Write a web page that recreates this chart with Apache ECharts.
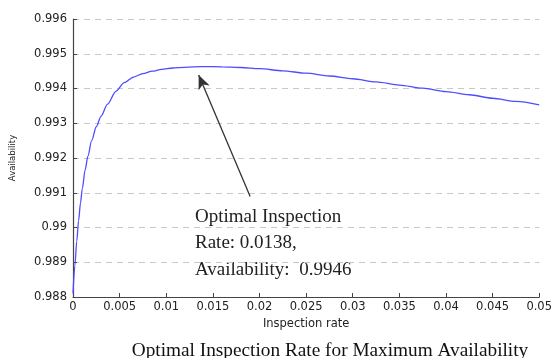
<!DOCTYPE html>
<html>
<head>
<meta charset="utf-8">
<script src="https://cdn.jsdelivr.net/npm/echarts@6/dist/echarts.min.js"></script>
<style>html,body{margin:0;padding:0;background:#fff}#c{width:555px;height:358px}</style>
</head>
<body>
<div id="c"></div>
<script>
var rates = [0, 0.0002, 0.0004, 0.0006, 0.0008, 0.001, 0.0013, 0.0016, 0.002, 0.0025, 0.003, 0.0037, 0.0046, 0.0055, 0.0065, 0.0075, 0.0085, 0.0095, 0.0107, 0.012, 0.0138, 0.016, 0.018, 0.02, 0.0225, 0.025, 0.0275, 0.03, 0.0325, 0.035, 0.0375, 0.04, 0.0425, 0.045, 0.0475, 0.05];
var availability = [0.9881, 0.9889, 0.9896, 0.9902, 0.9907, 0.99112, 0.99166, 0.99205, 0.99250, 0.99290, 0.99320, 0.99355, 0.99392, 0.99417, 0.99433, 0.99443, 0.99450, 0.99455, 0.99459, 0.99461, 0.99463, 0.994625, 0.994605, 0.99457, 0.99451, 0.99444, 0.99436, 0.99428, 0.99419, 0.99410, 0.99401, 0.99391, 0.99382, 0.99372, 0.99363, 0.99353];
var xTickLabels = ['0', '0.005', '0.01', '0.015', '0.02', '0.025', '0.03', '0.035', '0.04', '0.045', '0.05'];
var yTickLabels = ['0.988', '0.989', '0.99', '0.991', '0.992', '0.993', '0.994', '0.995', '0.996'];
var arrowTail = [0.0190, 0.99089];
var arrowHead = [0.01348, 0.99439];
var annotationLines = ['Optimal Inspection', 'Rate: 0.0138,', 'Availability:  0.9946'];
var titleText = 'Optimal Inspection Rate for Maximum Availability';

var chart = echarts.init(document.getElementById('c'), null, {renderer: 'canvas'});
var pts = rates.map(function (r, i) { return [r, availability[i]]; });
chart.setOption({
  animation: false,
  backgroundColor: '#fff',
  title: {
    text: titleText,
    left: 325, top: 336, textAlign: 'center',
    textStyle: {fontFamily: 'Liberation Serif', fontSize: 19.3, fontWeight: 'normal', color: '#111'}
  },
  grid: {left: 72, right: 12, top: 19, bottom: 61},
  xAxis: {
    type: 'value', min: 0, max: 0.05, interval: 0.005,
    name: 'Inspection rate', nameLocation: 'middle', nameGap: 18,
    nameTextStyle: {fontFamily: 'DejaVu Sans', fontSize: 11.5, color: '#222'},
    axisLine: {lineStyle: {color: '#444', width: 1.2}},
    axisTick: {inside: true, length: 4, lineStyle: {color: '#444'}},
    axisLabel: {fontFamily: 'DejaVu Sans', fontSize: 11.5, color: '#222', margin: 4,
      formatter: function (v) { return xTickLabels[Math.round(v / 0.005)]; }},
    splitLine: {show: false}
  },
  yAxis: {
    type: 'value', min: 0.988, max: 0.996, interval: 0.001,
    name: 'Availability', nameLocation: 'middle', nameGap: 56, nameRotate: 90,
    nameTextStyle: {fontFamily: 'DejaVu Sans', fontSize: 8.5, color: '#222'},
    axisLine: {show: true, lineStyle: {color: '#444', width: 1.2}},
    axisTick: {show: true, inside: true, length: 4, lineStyle: {color: '#444'}},
    axisLabel: {fontFamily: 'DejaVu Sans', fontSize: 11.5, color: '#222', margin: 6,
      formatter: function (v) { return yTickLabels[Math.round((v - 0.988) / 0.001)]; }},
    splitLine: {show: true, lineStyle: {color: '#c8c8c8', type: [6, 5], width: 1}}
  },
  series: [{
    type: 'line', data: pts, showSymbol: false, smooth: 0.3, smoothMonotone: 'x',
    lineStyle: {color: '#4d4dff', width: 1.3},
    markLine: {
      silent: true, symbol: ['none', 'arrow'], symbolSize: [9, 14],
      label: {show: false},
      lineStyle: {color: '#333', width: 1.3, type: 'solid'},
      data: [[{coord: arrowTail}, {coord: arrowHead}]]
    }
  }],
  graphic: [{
    type: 'text', left: 195, top: 203.5,
    style: {text: annotationLines.join('\n'), fontFamily: 'Liberation Serif', fontSize: 19, lineHeight: 26.5, fill: '#222'}
  }]
});
</script>
</body>
</html>
